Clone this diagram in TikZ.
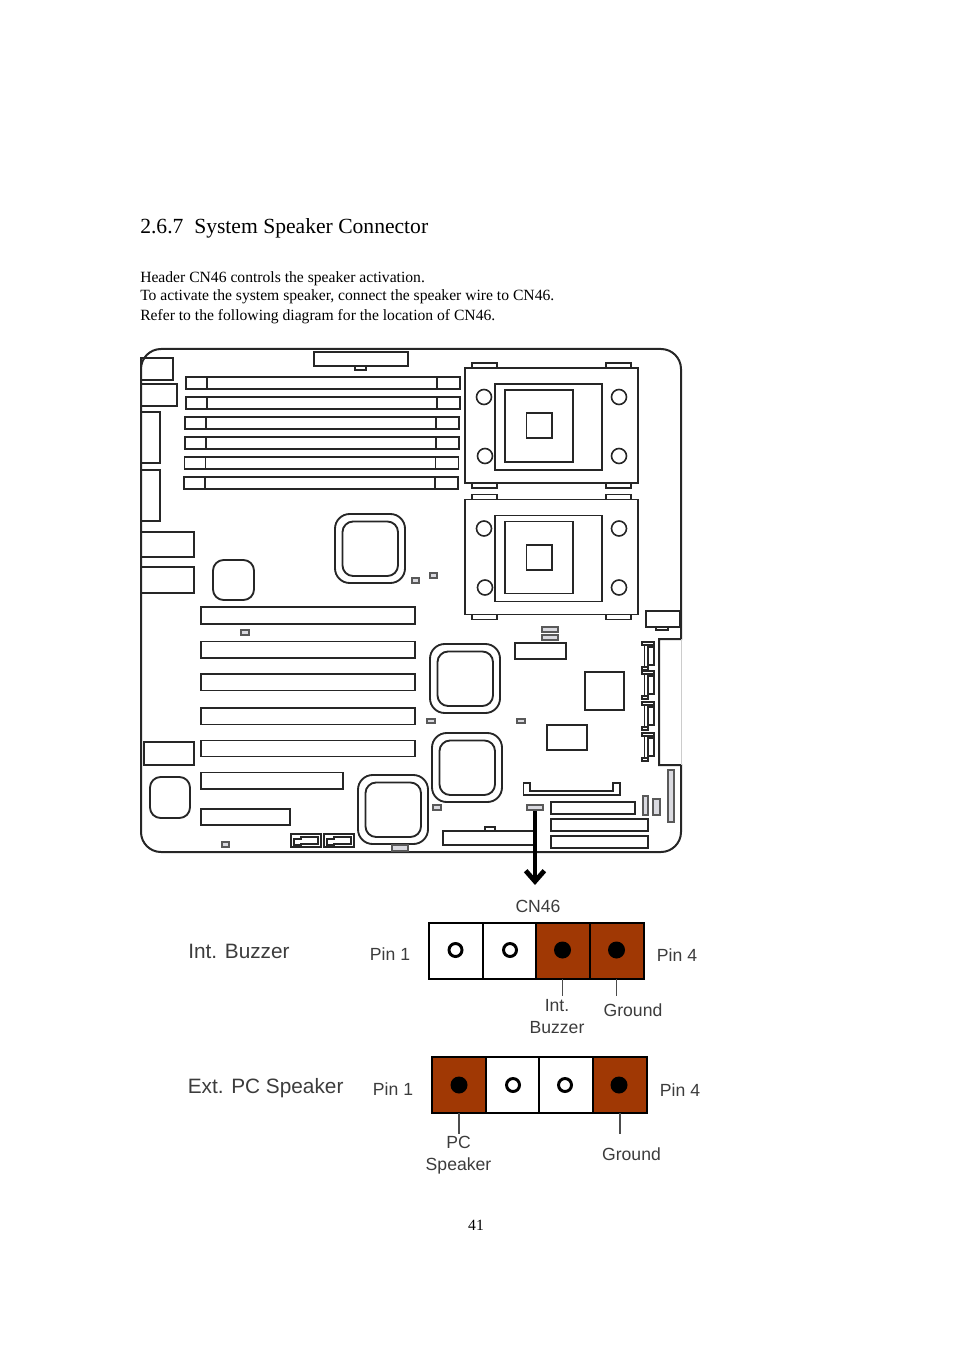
\documentclass[tikz,border=0pt]{standalone}
\usepackage{fontspec}
\setmainfont{Liberation Serif}
\setsansfont{Liberation Sans}
\usetikzlibrary{arrows.meta}
\definecolor{pinbrown}{RGB}{160,56,4}
\definecolor{partgray}{RGB}{218,218,224}
\definecolor{labelgray}{RGB}{60,60,60}
\tikzset{
  board/.style={line width=1.5pt,draw=black!85},
  part/.style={line width=1.4pt,draw=black!85},
  smallpart/.style={line width=0.9pt,draw=black!65,fill=partgray},
  pagetext/.style={anchor=base west,inner sep=0pt,font=\rmfamily\fontsize{11.72}{13}\selectfont},
  pinlabel/.style={inner sep=0pt,text=labelgray,font=\sffamily\fontsize{13.2}{16}\selectfont},
  biglabel/.style={anchor=base west,inner sep=0pt,text=labelgray,font=\sffamily\fontsize{15.6}{18}\selectfont},
  pinbox/.style={line width=2.2pt,draw=black}
}
\begin{document}
\begin{tikzpicture}[x=0.75pt,y=-0.75pt]
  \useasboundingbox (0,0) rectangle (954,1351);
  % text of the page
  \node[pagetext,font=\rmfamily\fontsize{16.2}{18}\selectfont] (title) at (140,234) {2.6.7\hspace{0.5em}System Speaker Connector};
  \node[pagetext] (lineone) at (140,283) {Header CN46 controls the speaker activation.};
  \node[pagetext] (linetwo) at (140,300.7) {To activate the system speaker, connect the speaker wire to CN46.};
  \node[pagetext] (linethree) at (140,321) {Refer to the following diagram for the location of CN46.};
  \node[pagetext,anchor=base] (pagenum) at (476,1230) {41};
  % board outline
  \draw[board] (161,349) -- (661,349) arc (-90:0:20) -- (681,639) -- (659,639) -- (659,765) -- (681,765)
    -- (681,832) arc (0:90:20) -- (161,852) arc (90:180:20) -- (141,369) arc (180:270:20) -- cycle;
  \draw[line width=0.6pt,black!20] (681,639) -- (681,765);
  % memory slots
  \foreach \y/\x in {377/186,397/186,417/185,437/185,457/184.5,477/184}
  {
    \draw[part] (\x,\y) rectangle (\x+274,\y+12);
    \draw[part] (\x+21,\y) -- (\x+21,\y+12);
    \draw[part] (\x+251,\y) -- (\x+251,\y+12);
  }
  \draw[part] (314,352) rectangle (408,366);
  \draw[part,line width=0.8pt] (355,366) rectangle (366,370);
  % left edge
  \foreach \a/\b/\c/\d in {141/358/173/380,141/384/177/406,141/412/160/463,141/470/160/521,141/532/194/557,141/567/194/593,144/742/194/765}
    \draw[part] (\a,\b) rectangle (\c,\d);
  % add-in slots
  \foreach \a/\b/\c in {607/624/415,641.5/658/415,674/690.5/415,708/724.5/415,740.5/756.5/415,772.5/789/343,809/825/290}
    \draw[part] (201,\a) rectangle (\c,\b);
  % rounded chips
  \draw[part,rounded corners=8] (213,560) rectangle (254,600);
  \draw[part,rounded corners=8] (150,777) rectangle (190,818);
  \foreach \x/\y in {335/514,358/775,430/644,432/733}
  {
    \draw[part,rounded corners=11] (\x,\y) rectangle (\x+70,\y+69);
    \draw[part,rounded corners=8] (\x+7.5,\y+7.5) rectangle (\x+63,\y+62);
  }
  % cpu sockets
  \foreach \y/\c in {368/413,499.5/545}
  {
    \draw[part] (465,\y) rectangle (638,\y+115);
    \foreach \x in {472,606}
    {
      \draw[part] (\x,\y-5) rectangle (\x+25,\y);
      \draw[part] (\x,\y+115) rectangle (\x+25,\y+120);
    }
    \draw[part] (495,\y+16) rectangle (602,\y+102);
    \draw[part] (505,\y+22) rectangle (573,\y+94);
    \draw[part] (526.5,\c) rectangle (552,\c+25);
    \foreach \x/\d in {484/29,485/88,619/29,619/88}
      \draw[part,line width=1.2pt] (\x,\y+\d) circle (7.5);
  }
  \draw[part] (646,611) rectangle (680,627);
  \draw[part,line width=0.8pt] (656,627) rectangle (668,630);
  % boxes on the right
  \foreach \a/\b/\c/\d in {515/643/566/659,585/672/624/710,547/725/587/750,551/802/635/814,551/819/648/831,551/836/648/848,443/831/535/845}
    \draw[part] (\a,\b) rectangle (\c,\d);
  \draw[part,line width=0.8pt] (485,827) rectangle (495,831);
  \draw[part] (523.5,783) -- (530,783) -- (530,791) -- (613,791) -- (613,783) -- (620,783) -- (620,795) -- (523.5,795) -- cycle;
  % sata headers
  \foreach \y in {642,671,702,733}
  {
    \draw[part,line width=1.1pt] (642,\y) rectangle (654,\y+3);
    \draw[part,line width=1.1pt] (644.5,\y+3) rectangle (648,\y+25);
    \draw[part,line width=1.1pt] (648,\y+5) rectangle (654,\y+23);
    \draw[part,line width=1.1pt] (642,\y+25) rectangle (648,\y+28);
  }
  \foreach \x in {291,324}
  {
    \draw[part] (\x,834) rectangle (\x+30,847);
    \draw[part,line width=0.9pt] (\x+3,845) -- (\x+3,839) -- (\x+10,839) -- (\x+10,837) -- (\x+27,837) -- (\x+27,844) -- (\x+10,844) -- (\x+10,845) -- cycle;
  }
  % small parts
  \foreach \a/\b/\c/\d in {412/578/419/583,430/573/437/578,241/630/249/635,222/842/229/847,427/719/435/723,517/719/525/723,433/805/441/810,542/627/558/632,542/635/558/640,392/845/408/851,643/796/648/815,653/799/660/815,668/770/674/822}
    \draw[smallpart] (\a,\b) rectangle (\c,\d);
  \draw[smallpart] (527,805) rectangle (543,810);
  % arrow to the header
  \coordinate (cnhdr) at (535,811);
  \coordinate (cnzoom) at (535,885);
  \draw[line width=3.6pt,-{Straight Barb[length=8pt,width=14pt,line width=3.6pt]}] (cnhdr) -- (cnzoom);
  % upper header
  \node[pinlabel] (cntitle) at (538,906) {CN46};
  \fill[pinbrown] (536,923) rectangle (644,979);
  \draw[pinbox] (429,923) rectangle (644,979);
  \foreach \x in {483,536,590}
    \draw[pinbox] (\x,923) -- (\x,979);
  \foreach \x/\n in {455.5/a,510/b}
    \draw[line width=2.2pt,fill=white] (\x,950) circle (6.5) coordinate (up\n);
  \foreach \x/\n in {562.5/c,616.5/d}
    \fill[black] (\x,950) circle (8.5) coordinate (up\n);
  \node[biglabel] (intbuzzer) at (188,958) {Int. Buzzer};
  \node[pinlabel] (uppinone) at (390,954) {Pin 1};
  \node[pinlabel] (uppinfour) at (677,955) {Pin 4};
  \node[pinlabel,align=center] (upbuzzer) at (557,1016.5) {Int.\\[0.5pt]Buzzer};
  \node[pinlabel] (upground) at (633,1010) {Ground};
  \coordinate (uplegc) at (562.5,979);
  \coordinate (uplegd) at (616.5,979);
  \draw[line width=1.2pt,black!70] (uplegc) -- (562.5,996);
  \draw[line width=1.2pt,black!70] (uplegd) -- (616.5,996);
  % lower header
  \fill[pinbrown] (432,1057) rectangle (486,1113);
  \fill[pinbrown] (593,1057) rectangle (647,1113);
  \draw[pinbox] (432,1057) rectangle (647,1113);
  \foreach \x in {486,539,593}
    \draw[pinbox] (\x,1057) -- (\x,1113);
  \foreach \x/\n in {513/b,565/c}
    \draw[line width=2.2pt,fill=white] (\x,1085) circle (6.5) coordinate (lo\n);
  \foreach \x/\n in {459/a,619/d}
    \fill[black] (\x,1085) circle (8.5) coordinate (lo\n);
  \node[biglabel] (extspeaker) at (187.5,1093) {Ext. PC Speaker};
  \node[pinlabel] (lopinone) at (393,1089) {Pin 1};
  \node[pinlabel] (lopinfour) at (680,1090) {Pin 4};
  \node[pinlabel,align=center] (lospeaker) at (458.5,1155.5) {PC\\[0.5pt]Speaker};
  \node[pinlabel] (loground) at (631.5,1154) {Ground};
  \coordinate (lolega) at (459,1113);
  \coordinate (lolegd) at (620,1113);
  \draw[line width=1.2pt,black!70] (lolega) -- (459,1134);
  \draw[line width=1.2pt,black!70] (lolegd) -- (620,1134);
\end{tikzpicture}
\end{document}
